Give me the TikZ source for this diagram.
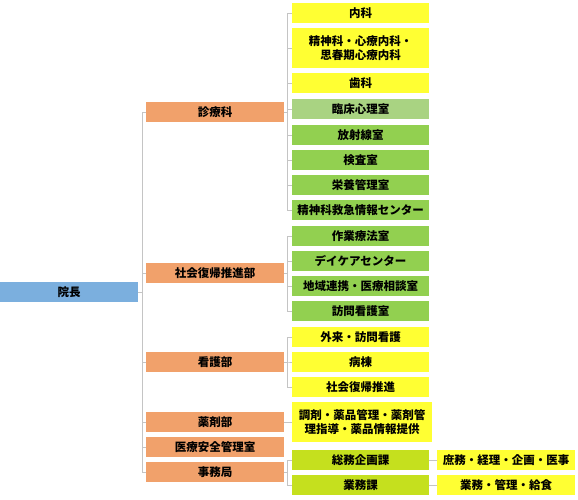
\documentclass[tikz,border=0pt]{standalone}
\usepackage{fontspec}
\setmainfont{Noto Sans CJK JP}
\usepackage{xcolor}
\usetikzlibrary{positioning,calc}
\definecolor{headBlue}{HTML}{7BAFDE}
\definecolor{deptOrange}{HTML}{F1A16B}
\definecolor{unitYellow}{HTML}{FFFF33}
\definecolor{unitGreen}{HTML}{92D050}
\definecolor{unitPale}{HTML}{A9D382}
\definecolor{unitLime}{HTML}{C5E01E}
\definecolor{linkGray}{HTML}{C4C4C4}

\begin{document}
\begin{tikzpicture}[
    x=1pt, y=-1pt,
    font=\fontsize{11.5}{13.5}\selectfont\bfseries,
    base/.style={minimum height=20pt, inner sep=0pt, align=center, text=black},
    head/.style={base, fill=headBlue, minimum width=138pt},
    dept/.style={base, fill=deptOrange, minimum width=138pt},
    yel/.style={base, fill=unitYellow, minimum width=137pt},
    grn/.style={base, fill=unitGreen, minimum width=137pt},
    pale/.style={base, fill=unitPale, minimum width=137pt},
    lime/.style={base, fill=unitLime, minimum width=137pt},
    tall/.style={minimum height=40pt},
    link/.style={draw=linkGray, line width=0.8pt},
  ]
\useasboundingbox (0,0) rectangle (578,500);

% ===== Head =====
\node[head] (inchou) at (69,292) {院長};

% ===== Departments =====
\node[dept] (shinryo) at (215,112) {診療科};
\node[dept] (shakai) at (215,273) {社会復帰推進部};
\node[dept] (kango) at (215,362) {看護部};
\node[dept] (yakuzai) at (215,422) {薬剤部};
\node[dept] (anzen) at (215,447) {医療安全管理室};
\node[dept] (jimu) at (215,472) {事務局};

% ===== 診療科 units =====
\node[yel] (naika) at (360.5,13) {内科};
\node[yel, tall] (seishin) at (360.5,48) {精神科・心療内科・\\思春期心療内科};
\node[yel] (shika) at (360.5,83.5) {歯科};
\node[pale] (rinsho) at (360.5,109) {臨床心理室};
\node[grn] (hoshasen) at (360.5,135) {放射線室};
\node[grn] (kensa) at (360.5,160) {検査室};
\node[grn] (eiyo) at (360.5,185) {栄養管理室};
\node[grn] (kyukyu) at (360.5,210) {精神科救急情報センター};

% ===== 社会復帰推進部 units =====
\node[grn] (sagyo) at (360.5,236) {作業療法室};
\node[grn] (daycare) at (360.5,261) {デイケアセンター};
\node[grn] (chiiki) at (360.5,286) {地域連携・医療相談室};
\node[grn] (houmon) at (360.5,311) {訪問看護室};

% ===== 看護部 units =====
\node[yel] (gairai) at (360.5,337) {外来・訪問看護};
\node[yel] (byoto) at (360.5,362) {病棟};
\node[yel] (fukki) at (360.5,387) {社会復帰推進};

% ===== 薬剤部 / 事務局 units =====
\node[yel, tall, minimum width=140pt] (chozai) at (362,422) {調剤・薬品管理・薬剤管\\理指導・薬品情報提供};
\node[lime] (somu) at (360.5,460) {総務企画課};
\node[lime] (gyomu) at (360.5,485) {業務課};
\node[yel, minimum width=138pt] (shomu) at (506,460) {庶務・経理・企画・医事};
\node[yel, minimum width=138pt] (kyushoku) at (506,485) {業務・管理・給食};

% Links
\foreach \d in {shinryo,shakai,kango,yakuzai,anzen,jimu}
  \draw[link] (inchou.east) -- ++(4,0) |- (\d.west);
\foreach \u in {naika,seishin,shika,rinsho,hoshasen,kensa,eiyo,kyukyu}
  \draw[link] (shinryo.east) -- ++(3,0) |- (\u.west);
\foreach \u in {sagyo,daycare,chiiki,houmon}
  \draw[link] (shakai.east) -- ++(3,0) |- (\u.west);
\foreach \u in {gairai,byoto,fukki}
  \draw[link] (kango.east) -- ++(3,0) |- (\u.west);
\foreach \u in {somu,gyomu}
  \draw[link] (jimu.east) -- ++(3,0) |- (\u.west);
\draw[link] (yakuzai.east) -- (chozai.west);
\draw[link] (somu.east) -- (shomu.west);
\draw[link] (gyomu.east) -- (kyushoku.west);

\end{tikzpicture}
\end{document}
